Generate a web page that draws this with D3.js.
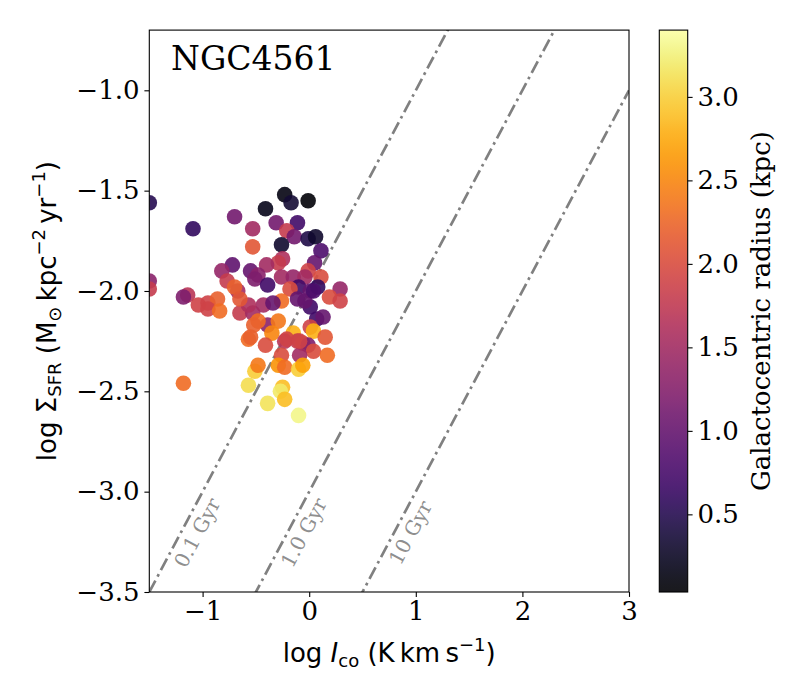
<!DOCTYPE html>
<html>
<head>
<meta charset="utf-8">
<script src="https://cdn.jsdelivr.net/npm/d3@7"></script>
<style>
    body { margin: 0; background: #fff; }
    .axis text { font-family: "DejaVu Serif", serif; font-size: 26px; fill: #000; }
    .axis path, .axis line { stroke: #000; stroke-width: 1.1; }
</style>
</head>
<body>
<div id="chart"></div>
<script>

// log I_co (K km/s) of each region
var logIco = [-0.23, -0.17, -0.01, -0.41, -0.31, -0.11, -0.53, -0.21, -0.14, -0.01,
              0.06, -0.53, -0.26, 0.11, -0.25, -0.29, 0.05, -0.40, -0.01, 0.11,
              -0.55, -0.48, -0.51, -0.26, -0.15, -0.04, -0.39, -0.10, 0.01, 0.08,
              0.29, -0.18, 0.19, 0.29, -0.26, -0.11, -0.43, -1.50, -1.09, -0.70,
              -0.72, -0.82, -0.77, -0.67, -0.70, -1.50, -1.14, -1.18, -0.95, -1.04,
              -0.86, -0.95, -0.84, -0.65, -0.53, -0.57, -1.18, -0.57, -0.51, -0.34,
              0.01, 0.07, 0.13, -0.39, -0.29, -0.48, 0.01, 0.04, -0.55, -0.35,
              -0.15, -0.11, -0.06, -0.23, 0.15, -0.41, -0.01, 0.04, 0.17, -0.26,
              -0.09, -0.48, -0.29, -0.23, -0.10, -0.06, -0.25, -0.27, -0.23, -0.39,
              -0.10, -0.04, 0.04, -0.52, -0.21, -0.09, -1.50, -0.57, -0.65];

// log Sigma_SFR (Msun/kpc^2/yr)
var logSfr = [-1.52, -1.56, -1.55, -1.59, -1.66, -1.66, -1.69, -1.70, -1.73, -1.74,
              -1.73, -1.78, -1.77, -1.80, -1.84, -1.86, -1.86, -1.87, -1.90, -1.93,
              -1.90, -1.92, -1.94, -1.93, -1.93, -1.93, -1.97, -1.98, -2.00, -1.98,
              -1.99, -1.99, -2.03, -2.05, -2.05, -2.04, -2.07, -1.56, -1.69, -1.63,
              -1.87, -1.90, -1.95, -2.00, -1.98, -1.95, -2.02, -2.03, -2.06, -2.07,
              -2.04, -2.09, -2.10, -2.11, -2.11, -2.24, -2.46, -2.47, -2.40, -2.06,
              -2.08, -2.14, -2.13, -2.17, -2.15, -2.15, -2.18, -2.20, -2.23, -2.21,
              -2.21, -2.25, -2.26, -2.25, -2.23, -2.27, -2.27, -2.30, -2.32, -2.32,
              -2.32, -2.37, -2.37, -2.38, -2.39, -2.37, -2.48, -2.50, -2.54, -2.56,
              -2.62, -2.05, -2.00, -2.17, -2.24, -2.25, -1.99, -2.07, -2.04];

// galactocentric radius (kpc)
var radius = [0.15, 0.35, 0.08, 0.2, 1.1, 0.7, 1.5, 1.8, 1.1, 0.45,
              0.3, 2.1, 0.3, 0.8, 1.6, 1.8, 1.0, 1.5, 1.9, 2.0,
              1.0, 1.3, 1.2, 1.5, 1.4, 1.5, 0.7, 0.7, 1.0, 0.6,
              1.4, 2.0, 2.0, 1.9, 2.3, 1.0, 1.5, 0.5, 0.6, 1.1,
              0.95, 1.4, 1.8, 1.5, 2.2, 1.3, 1.7, 1.2, 1.9, 1.9,
              2.2, 1.9, 2.3, 1.8, 1.5, 2.3, 2.3, 3.1, 3.0, 1.0,
              0.7, 0.7, 1.0, 1.3, 2.4, 2.3, 1.9, 2.8, 2.2, 2.5,
              2.8, 1.8, 2.1, 1.7, 2.1, 2.0, 1.2, 2.0, 2.3, 2.0,
              1.5, 2.4, 2.6, 2.3, 3.0, 2.7, 2.9, 3.2, 2.9, 3.15,
              3.3, 1.0, 0.8, 2.2, 1.9, 1.9, 1.8, 1.6, 2.1];

var xTicks = [-1, 0, 1, 2, 3];
var yTicks = [-3.5, -3.0, -2.5, -2.0, -1.5, -1.0];
var cbTicks = [0.5, 1.0, 1.5, 2.0, 2.5, 3.0];

// constant depletion time lines: log Sigma_SFR = log I_co + offset
var depletionNames = ["0.1 Gyr", "1.0 Gyr", "10 Gyr"];
var depletionOffsets = [-2, -3, -4];

var galaxyName = "NGC4561";

function init() {

    var w = 800;
    var h = 700;
    var left = 149.3, right = 629, top = 30.1, bottom = 592;
    var cbLeft = 659.3, cbRight = 687.7;

    var xScale = d3.scaleLinear().domain([-1.5, 3]).range([left, right]);
    var yScale = d3.scaleLinear().domain([-3.5, -0.7]).range([bottom, top]);
    var cScale = d3.scaleLinear().domain([0.035, 3.4]).range([0, 1]);
    var cbScale = d3.scaleLinear().domain([0.035, 3.4]).range([bottom, top]);

    var svg = d3.select("#chart")
                .append("svg")
                .attr("width", w)
                .attr("height", h)
                .style("font-family", "DejaVu Serif");

    svg.append("clipPath")
        .attr("id", "plotClip")
        .append("rect")
        .attr("x", left)
        .attr("y", top)
        .attr("width", right - left)
        .attr("height", bottom - top);

    var plot = svg.append("g").attr("clip-path", "url(#plotClip)");

    // depletion time lines
    depletionOffsets.forEach(function(off, i) {
        plot.append("line")
            .attr("x1", xScale(-1.5))
            .attr("y1", yScale(-1.5 + off))
            .attr("x2", xScale(3))
            .attr("y2", yScale(3 + off))
            .attr("stroke", "#808080")
            .attr("stroke-width", 2.7)
            .attr("stroke-dasharray", "13,4.5,2.7,4.5");

        // label sits a bit under the line, rotated along it
        var ly = -3.06;
        var lx = ly - off;
        var angle = Math.atan2(yScale(ly) - yScale(ly + 1), xScale(lx + 1) - xScale(lx)) * 180 / Math.PI;
        svg.append("text")
            .attr("transform", "translate(" + (xScale(lx) + 1) + "," + (yScale(ly) + 29) + ") rotate(" + (-angle) + ")")
            .attr("text-anchor", "middle")
            .attr("dominant-baseline", "central")
            .attr("fill", "#8f8f8f")
            .attr("font-size", 20)
            .text(depletionNames[i]);
    });

    // scatter points
    plot.selectAll("circle")
        .data(logIco)
        .enter()
        .append("circle")
        .attr("cx", function(d) { return xScale(d); })
        .attr("cy", function(d, i) { return yScale(logSfr[i]); })
        .attr("r", 7.8)
        .attr("fill", function(d, i) { return d3.interpolateInferno(cScale(radius[i])); })
        .attr("fill-opacity", 0.9);

    // axes
    var xAxis = d3.axisBottom(xScale).tickValues(xTicks).tickFormat(d3.format("d"))
                  .tickSize(4.9).tickPadding(4.9);
    var yAxis = d3.axisLeft(yScale).tickValues(yTicks).tickFormat(d3.format(".1f"))
                  .tickSize(4.9).tickPadding(4.9);

    svg.append("g")
        .attr("class", "axis")
        .attr("transform", "translate(0," + bottom + ")")
        .call(xAxis)
        .call(function(g) { g.select(".domain").remove(); });

    svg.append("g")
        .attr("class", "axis")
        .attr("transform", "translate(" + left + ",0)")
        .call(yAxis)
        .call(function(g) { g.select(".domain").remove(); });

    svg.append("rect")
        .attr("x", left)
        .attr("y", top)
        .attr("width", right - left)
        .attr("height", bottom - top)
        .attr("fill", "none")
        .attr("stroke", "#000")
        .attr("stroke-width", 1.1);

    svg.append("text")
        .attr("x", 171)
        .attr("y", 70)
        .attr("font-size", 33)
        .text(galaxyName);

    // x label
    var xl = svg.append("text")
        .attr("x", (left + right) / 2)
        .attr("y", 662)
        .attr("text-anchor", "middle")
        .attr("font-family", "DejaVu Sans")
        .attr("font-size", 26);
    xl.append("tspan").text("log ");
    xl.append("tspan").attr("font-style", "italic").text("I");
    xl.append("tspan").attr("font-size", 18).attr("dy", 5).text("co");
    xl.append("tspan").attr("dy", -5).text(" (K\u2009km\u2009s");
    xl.append("tspan").attr("font-size", 18).attr("dy", -11).text("\u22121");
    xl.append("tspan").attr("dy", 11).text(")");

    // y label
    var yl = svg.append("text")
        .attr("transform", "translate(56," + ((top + bottom) / 2) + ") rotate(-90)")
        .attr("text-anchor", "middle")
        .attr("font-family", "DejaVu Sans")
        .attr("font-size", 26);
    yl.append("tspan").text("log \u03A3");
    yl.append("tspan").attr("font-size", 18).attr("dy", 5).text("SFR");
    yl.append("tspan").attr("dy", -5).text(" (M");
    yl.append("tspan").attr("font-size", 18).attr("dy", 5).text("\u2299");
    yl.append("tspan").attr("dy", -5).text("\u2009kpc");
    yl.append("tspan").attr("font-size", 18).attr("dy", -11).text("\u22122");
    yl.append("tspan").attr("dy", 11).text("\u2009yr");
    yl.append("tspan").attr("font-size", 18).attr("dy", -11).text("\u22121");
    yl.append("tspan").attr("dy", 11).text(")");

    // colorbar
    var grad = svg.append("defs").append("linearGradient")
        .attr("id", "cbGrad")
        .attr("x1", 0).attr("y1", 1).attr("x2", 0).attr("y2", 0);
    d3.range(0, 1.0001, 0.02).forEach(function(t) {
        grad.append("stop")
            .attr("offset", t)
            .attr("stop-color", d3.interpolateInferno(t))
            .attr("stop-opacity", 0.9);
    });

    svg.append("rect")
        .attr("x", cbLeft)
        .attr("y", top)
        .attr("width", cbRight - cbLeft)
        .attr("height", bottom - top)
        .attr("fill", "url(#cbGrad)")
        .attr("stroke", "#000")
        .attr("stroke-width", 1.1);

    var cbAxis = d3.axisRight(cbScale).tickValues(cbTicks).tickFormat(d3.format(".1f"))
                   .tickSize(4.9).tickPadding(4.9);
    svg.append("g")
        .attr("class", "axis")
        .attr("transform", "translate(" + cbRight + ",0)")
        .call(cbAxis)
        .call(function(g) { g.select(".domain").remove(); });

    svg.append("text")
        .attr("transform", "translate(770," + ((top + bottom) / 2) + ") rotate(-90)")
        .attr("text-anchor", "middle")
        .attr("font-size", 26)
        .text("Galactocentric radius (kpc)");
}

window.onload = init;
</script>
</body>
</html>
